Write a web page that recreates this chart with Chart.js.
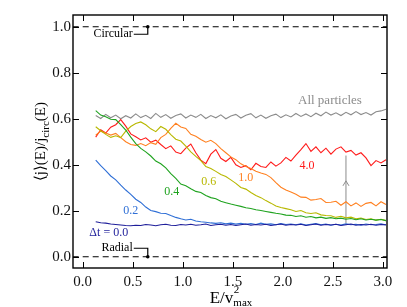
<!DOCTYPE html>
<html>
<head>
<meta charset="utf-8">
<script src="https://cdn.jsdelivr.net/npm/chart.js@4.4.0/dist/chart.umd.min.js"></script>
<style>
  html, body { margin: 0; padding: 0; background: #fff; }
</style>
</head>
<body>
<canvas id="chart" width="407" height="307"></canvas>
<script>
// energy grid shared by all curves (E / v_max^2)
const energy = [
  0.13, 0.18, 0.23, 0.28, 0.33, 0.38, 0.43, 0.48, 0.53, 0.58,
  0.63, 0.68, 0.73, 0.78, 0.83, 0.88, 0.93, 0.98, 1.03, 1.08,
  1.13, 1.18, 1.23, 1.28, 1.33, 1.38, 1.43, 1.48, 1.53, 1.58,
  1.63, 1.68, 1.73, 1.78, 1.83, 1.88, 1.93, 1.98, 2.03, 2.08,
  2.13, 2.18, 2.23, 2.28, 2.33, 2.38, 2.43, 2.48, 2.53, 2.58,
  2.63, 2.68, 2.73, 2.78, 2.83, 2.88, 2.93, 2.98, 3.03
];

const allParticles = [
  0.614, 0.601, 0.619, 0.604, 0.616, 0.600, 0.613, 0.603, 0.621, 0.605,
  0.615, 0.601, 0.623, 0.606, 0.618, 0.602, 0.614, 0.621, 0.603, 0.616,
  0.606, 0.619, 0.601, 0.614, 0.604, 0.617, 0.600, 0.612, 0.619, 0.603,
  0.615, 0.622, 0.604, 0.616, 0.602, 0.613, 0.620, 0.605, 0.617, 0.608,
  0.623, 0.610, 0.621, 0.609, 0.624, 0.613, 0.629, 0.616, 0.626, 0.614,
  0.628, 0.617, 0.631, 0.618, 0.627, 0.616, 0.630, 0.634, 0.641
];
const dt40 = [
  0.520, 0.552, 0.538, 0.563, 0.574, 0.596, 0.568, 0.534, 0.522, 0.508,
  0.517, 0.498, 0.507, 0.488, 0.470, 0.482, 0.455, 0.448, 0.472, 0.490,
  0.452, 0.420, 0.405, 0.446, 0.466, 0.428, 0.414, 0.432, 0.400, 0.388,
  0.396, 0.378, 0.406, 0.392, 0.388, 0.412, 0.394, 0.408, 0.432, 0.416,
  0.442, 0.466, 0.492, 0.458, 0.478, 0.452, 0.472, 0.446, 0.468, 0.478,
  0.455, 0.462, 0.442, 0.452, 0.430, 0.396, 0.418, 0.408, 0.422
];
const dt10 = [
  0.528, 0.546, 0.538, 0.529, 0.536, 0.518, 0.500, 0.488, 0.484, 0.492,
  0.483, 0.496, 0.489, 0.518, 0.532, 0.558, 0.580, 0.564, 0.558, 0.532,
  0.524, 0.510, 0.498, 0.506, 0.492, 0.470, 0.452, 0.434, 0.422, 0.404,
  0.392, 0.384, 0.372, 0.364, 0.358, 0.344, 0.322, 0.302, 0.290, 0.281,
  0.272, 0.259, 0.258, 0.246, 0.249, 0.253, 0.236, 0.237, 0.241, 0.224,
  0.239, 0.221, 0.234, 0.219, 0.232, 0.236, 0.221, 0.239, 0.227
];
const dt06 = [
  0.565, 0.548, 0.532, 0.519, 0.526, 0.518, 0.546, 0.566, 0.579, 0.586,
  0.574, 0.556, 0.544, 0.566, 0.554, 0.531, 0.511, 0.503, 0.481, 0.456,
  0.436, 0.418, 0.392, 0.384, 0.371, 0.358, 0.349, 0.334, 0.319, 0.301,
  0.294, 0.279, 0.266, 0.257, 0.244, 0.233, 0.221, 0.214, 0.209, 0.204,
  0.197, 0.201, 0.191, 0.188, 0.191, 0.182, 0.179, 0.178, 0.171, 0.176,
  0.169, 0.172, 0.165, 0.168, 0.162, 0.165, 0.159, 0.163, 0.157
];
const dt04 = [
  0.635, 0.616, 0.609, 0.598, 0.596, 0.574, 0.551, 0.520, 0.492, 0.471,
  0.456, 0.438, 0.416, 0.404, 0.386, 0.361, 0.341, 0.316, 0.309, 0.296,
  0.284, 0.279, 0.266, 0.257, 0.252, 0.241, 0.235, 0.229, 0.224, 0.219,
  0.213, 0.210, 0.204, 0.201, 0.197, 0.193, 0.189, 0.186, 0.181, 0.180,
  0.175, 0.178, 0.172, 0.175, 0.169, 0.172, 0.167, 0.170, 0.165, 0.168,
  0.163, 0.166, 0.161, 0.165, 0.160, 0.163, 0.159, 0.162, 0.157
];
const dt02 = [
  0.420, 0.396, 0.374, 0.351, 0.334, 0.311, 0.290, 0.271, 0.250, 0.236,
  0.216, 0.201, 0.196, 0.189, 0.188, 0.179, 0.171, 0.165, 0.160, 0.163,
  0.155, 0.152, 0.150, 0.147, 0.145, 0.148, 0.143, 0.146, 0.142, 0.145,
  0.141, 0.144, 0.140, 0.146, 0.141, 0.143, 0.139, 0.144, 0.140, 0.142,
  0.139, 0.143, 0.138, 0.141, 0.144, 0.139, 0.142, 0.137, 0.141, 0.138,
  0.143, 0.139, 0.141, 0.137, 0.142, 0.139, 0.140, 0.143, 0.138
];
const dt00 = [
  0.152, 0.148, 0.146, 0.142, 0.140, 0.138, 0.136, 0.135, 0.137, 0.136,
  0.140, 0.138, 0.135, 0.139, 0.141, 0.137, 0.136, 0.140, 0.138, 0.141,
  0.137, 0.139, 0.142, 0.136, 0.139, 0.141, 0.137, 0.140, 0.136, 0.139,
  0.142, 0.137, 0.140, 0.138, 0.141, 0.136, 0.139, 0.142, 0.137, 0.140,
  0.138, 0.141, 0.136, 0.139, 0.142, 0.137, 0.140, 0.138, 0.141, 0.136,
  0.139, 0.142, 0.137, 0.140, 0.138, 0.141, 0.137, 0.140, 0.139
];

const xTicks = [0.0, 0.5, 1.0, 1.5, 2.0, 2.5, 3.0];
const yTicks = [0.0, 0.2, 0.4, 0.6, 0.8, 1.0];

// reference lines and the gray arrow
const circularLevel = 1.0;
const radialLevel = 0.0;
const markerE = 0.65;
const arrowE = 2.63;
const arrowFrom = 0.145;
const arrowTo = 0.44;
const arrowHead = 0.33;

// curve labels placed in data coordinates
const curveLabels = [
  { text: 'All particles', x: 2.47, y: 0.681, color: '#8c8c8c', size: 13 },
  { text: '4.0', x: 2.24, y: 0.394, color: '#ff1a1a', size: 12 },
  { text: '1.0', x: 1.63, y: 0.342, color: '#ff8020', size: 12 },
  { text: '0.6', x: 1.26, y: 0.325, color: '#b8b800', size: 12 },
  { text: '0.4', x: 0.89, y: 0.281, color: '#1fa31f', size: 12 },
  { text: '0.2', x: 0.48, y: 0.199, color: '#2f6fd6', size: 12 },
  { text: '\u0394t = 0.0', x: 0.26, y: 0.103, color: '#1e1e9a', size: 12 }
];

const SERIF = '"Liberation Serif", "DejaVu Serif", serif';

function pts(ys) {
  return ys.map((y, i) => ({ x: energy[i], y: y }));
}

function curve(ys, color) {
  return {
    data: pts(ys),
    borderColor: color,
    borderWidth: 1.1,
    pointRadius: 0,
    tension: 0,
    fill: false
  };
}

function flat(level) {
  return {
    data: [{ x: -0.2, y: level }, { x: 3.2, y: level }],
    borderColor: '#000',
    borderWidth: 1.2,
    borderDash: [6, 4],
    pointRadius: 0
  };
}

// draws frame, inward ticks, axis titles and annotations
const decorations = {
  id: 'decorations',
  afterDraw(chart) {
    const ctx = chart.ctx;
    const a = chart.chartArea;
    const xs = chart.scales.x;
    const ys = chart.scales.y;
    ctx.save();

    // inward ticks on all four sides
    ctx.strokeStyle = '#000';
    ctx.lineWidth = 1;
    const tl = 6;
    xTicks.forEach(v => {
      const px = Math.round(xs.getPixelForValue(v)) + 0.5;
      ctx.beginPath();
      ctx.moveTo(px, a.bottom); ctx.lineTo(px, a.bottom - tl);
      ctx.moveTo(px, a.top); ctx.lineTo(px, a.top + tl);
      ctx.stroke();
    });
    yTicks.forEach(v => {
      const py = Math.round(ys.getPixelForValue(v)) + 0.5;
      ctx.beginPath();
      ctx.moveTo(a.left, py); ctx.lineTo(a.left + tl, py);
      ctx.moveTo(a.right, py); ctx.lineTo(a.right - tl, py);
      ctx.stroke();
    });

    // frame
    ctx.lineWidth = 1.4;
    ctx.strokeRect(a.left, a.top, a.right - a.left, a.bottom - a.top);

    // gray arrow head
    const ax = xs.getPixelForValue(arrowE);
    const ah = ys.getPixelForValue(arrowHead);
    ctx.strokeStyle = '#8c8c8c';
    ctx.lineWidth = 1;
    ctx.beginPath();
    ctx.moveTo(ax - 3, ah + 5); ctx.lineTo(ax, ah); ctx.lineTo(ax + 3, ah + 5);
    ctx.stroke();

    // circular / radial markers
    ctx.fillStyle = '#000';
    ctx.strokeStyle = '#000';
    ctx.lineWidth = 1.2;
    ctx.font = '12px ' + SERIF;
    ctx.textBaseline = 'middle';
    ctx.textAlign = 'right';
    const mx = xs.getPixelForValue(markerE);
    const cy = ys.getPixelForValue(circularLevel);
    const ry = ys.getPixelForValue(radialLevel);
    [[cy, cy + 7.5, 'Circular'], [ry, ry - 8.5, 'Radial']].forEach(m => {
      const lineY = m[0], textY = m[1];
      ctx.fillText(m[2], mx - 15, textY);
      ctx.beginPath();
      ctx.moveTo(mx - 14, textY); ctx.lineTo(mx, textY); ctx.lineTo(mx, lineY);
      ctx.stroke();
      ctx.beginPath();
      ctx.arc(mx, lineY, 1.8, 0, Math.PI * 2);
      ctx.fill();
    });

    // curve labels
    ctx.textAlign = 'center';
    curveLabels.forEach(l => {
      ctx.fillStyle = l.color;
      ctx.font = l.size + 'px ' + SERIF;
      ctx.fillText(l.text, xs.getPixelForValue(l.x), ys.getPixelForValue(l.y));
    });

    // x title: E/v^2_max
    ctx.fillStyle = '#000';
    ctx.textBaseline = 'alphabetic';
    ctx.textAlign = 'left';
    const big = '17px ' + SERIF, small = '11px ' + SERIF;
    ctx.font = big;
    const w1 = ctx.measureText('E/v').width;
    ctx.font = small;
    const w2 = ctx.measureText('max').width;
    let tx = (a.left + a.right) / 2 - (w1 + w2) / 2 + 1;
    const tb = 303;
    ctx.font = big; ctx.fillText('E/v', tx, tb);
    ctx.font = small;
    ctx.fillText('2', tx + w1 + 0.5, tb - 10);
    ctx.fillText('max', tx + w1, tb + 3);

    // y title: <j>(E)/j_circ(E), rotated, fitted to ~111px
    ctx.save();
    ctx.translate(45, (a.top + a.bottom) / 2);
    ctx.rotate(-Math.PI / 2);
    let fs = 15;
    const measure = size => {
      let t = 0;
      ctx.font = size + 'px ' + SERIF; t += ctx.measureText('\u27E8j\u27E9(E)/j').width;
      t += ctx.measureText('(E)').width;
      ctx.font = Math.round(size * 0.7) + 'px ' + SERIF; t += ctx.measureText('circ').width;
      return t;
    };
    let total = measure(fs);
    if (total > 111) { fs = fs * 111 / total; total = measure(fs); }
    const parts = [['\u27E8j\u27E9(E)/j', fs, 0], ['circ', Math.round(fs * 0.7), 4], ['(E)', fs, 0]];
    let px = -total / 2;
    parts.forEach(p => {
      ctx.font = p[1] + 'px ' + SERIF;
      ctx.fillText(p[0], px, p[2]);
      px += ctx.measureText(p[0]).width;
    });
    ctx.restore();

    ctx.restore();
  }
};

new Chart(document.getElementById('chart'), {
  type: 'line',
  data: {
    datasets: [
      curve(dt00, '#1e1e9a'),
      curve(dt02, '#2f6fd6'),
      curve(dt04, '#1fa31f'),
      curve(dt06, '#b8b800'),
      curve(dt10, '#ff8020'),
      curve(dt40, '#ff1a1a'),
      curve(allParticles, '#8c8c8c'),
      flat(circularLevel),
      flat(radialLevel),
      {
        data: [{ x: arrowE, y: arrowFrom }, { x: arrowE, y: arrowTo }],
        borderColor: '#8c8c8c',
        borderWidth: 1,
        pointRadius: 0
      }
    ]
  },
  options: {
    responsive: false,
    animation: false,
    layout: { padding: { top: 15, right: 20, left: 0, bottom: 0 } },
    plugins: { legend: { display: false }, tooltip: { enabled: false } },
    scales: {
      x: {
        type: 'linear',
        min: -0.097,
        max: 3.04,
        afterFit(s) { s.height = 39; },
        afterBuildTicks(s) { s.ticks = xTicks.map(v => ({ value: v })); },
        grid: { display: false, drawTicks: false },
        border: { display: false },
        ticks: {
          padding: 5,
          color: '#111',
          font: { family: SERIF, size: 15 },
          callback: v => v.toFixed(1)
        }
      },
      y: {
        type: 'linear',
        min: -0.049,
        max: 1.051,
        afterFit(s) { s.width = 73; },
        afterBuildTicks(s) { s.ticks = yTicks.map(v => ({ value: v })); },
        grid: { display: false, drawTicks: false },
        border: { display: false },
        ticks: {
          padding: 2,
          color: '#111',
          font: { family: SERIF, size: 15 },
          callback: v => v.toFixed(1)
        }
      }
    }
  },
  plugins: [decorations]
});
</script>
</body>
</html>
